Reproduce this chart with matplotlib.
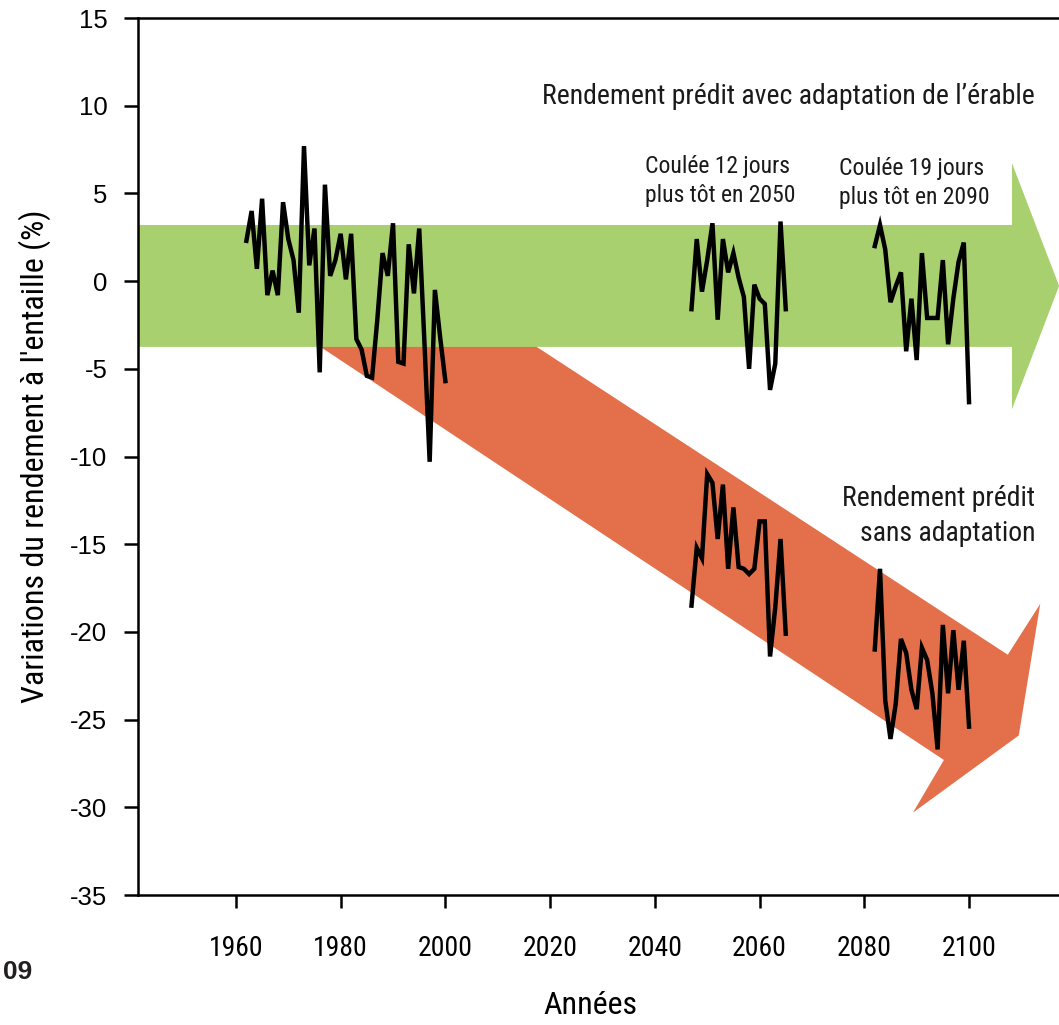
import numpy as np
import matplotlib
matplotlib.use("Agg")
import matplotlib.pyplot as plt
from matplotlib import font_manager
from matplotlib.patches import Polygon

# ---------------- data ----------------
hist_years = np.arange(1962, 2001)
hist_vals = [2.3, 4.0, 0.7, 4.7, -0.8, 0.6, -0.8, 4.5, 2.4, 1.2, -1.8, 7.7, 0.9, 3.0,
             -5.2, 5.5, 0.3, 1.2, 2.7, 0.1, 2.7, -3.3, -3.9, -5.4, -5.5, -2.2, 1.6, 0.3,
             3.3, -4.6, -4.7, 2.1, -0.7, 3.0, -3.5, -10.3, -0.5, -3.2, -5.7]

years_2050 = np.arange(2047, 2066)
adapt_2050 = [-1.6, 2.4, -0.6, 1.2, 3.3, -2.2, 2.4, 0.5, 1.6, 0.2, -0.9, -5.0, -0.2,
              -1.0, -1.3, -6.2, -4.7, 3.4, -1.6]
noadapt_2050 = [-18.5, -15.2, -15.8, -11.0, -11.5, -14.7, -11.6, -16.4, -12.9, -16.3,
                -16.4, -16.7, -16.4, -13.7, -13.7, -21.4, -18.6, -14.7, -20.1]

years_2090 = np.arange(2082, 2101)
adapt_2090 = [2.0, 3.2, 1.8, -1.2, -0.3, 0.5, -4.0, -1.0, -4.5, 1.6, -2.1, -2.1, -2.1,
              1.2, -3.6, -1.0, 1.1, 2.2, -6.9]
noadapt_2090 = [-21.0, -16.4, -23.9, -26.1, -24.1, -20.4, -21.2, -23.3, -24.4, -20.9,
                -21.6, -23.5, -26.7, -19.6, -23.5, -19.9, -23.3, -20.5, -25.4]

x_ticks = [1960, 1980, 2000, 2020, 2040, 2060, 2080, 2100]
y_ticks = [15, 10, 5, 0, -5, -10, -15, -20, -25, -30, -35]

GREEN = "#a9d06f"
RED = "#e3704a"

# ---------------- fonts ----------------
available = {f.name for f in font_manager.fontManager.ttflist}
def pick(cands):
    for c in cands:
        if c in available:
            return c
    return "DejaVu Sans"
NARROW = pick(["Liberation Sans Narrow", "Roboto Condensed", "DejaVu Sans Condensed",
               "Liberation Sans"])
REG = pick(["Liberation Sans", "Arial", "DejaVu Sans"])

# ---------------- figure ----------------
fig = plt.figure(figsize=(10.59, 10.25), dpi=100)
x0, x1 = 1941.3, 2120.0
ax = fig.add_axes([138 / 1059, 0.1268, (236 + (x1 - 1960) * 5.236 - 138) / 1059, 0.8556])
ax.set_xlim(x0, x1)
ax.set_ylim(-35, 15)

# red arrow (no adaptation), drawn beneath green arrow
red_poly = [(1989.0, 1.8), (2107.4, -21.3), (2113.6, -18.4), (2109.5, -25.9),
            (2089.3, -30.3), (2095.2, -27.3), (1976.4, -3.8)]
ax.add_patch(Polygon(red_poly, closed=True, facecolor=RED, edgecolor="none", zorder=1))

# green arrow (with adaptation)
g_top, g_bot, g_head_start, g_head_top, g_head_bot, g_tip_x, g_tip_y = 3.2, -3.75, 2108.2, 6.73, -7.3, 2117.2, -0.27
green_poly = [(x0, g_top), (g_head_start, g_top), (g_head_start, g_head_top), (g_tip_x, g_tip_y),
              (g_head_start, g_head_bot), (g_head_start, g_bot), (x0, g_bot)]
ax.add_patch(Polygon(green_poly, closed=True, facecolor=GREEN, edgecolor="none", zorder=2))

lw = 3.2
for xs, ys in [(hist_years, hist_vals), (years_2050, adapt_2050), (years_2090, adapt_2090),
               (years_2050, noadapt_2050), (years_2090, noadapt_2090)]:
    ax.plot(xs, ys, color="black", lw=lw, zorder=3, solid_joinstyle="miter")

# spines
for s in ["top", "left", "bottom"]:
    ax.spines[s].set_linewidth(1.8)
ax.spines["right"].set_visible(False)

ax.set_yticks(y_ticks)
ax.set_yticklabels([str(v) for v in y_ticks], fontfamily=REG, fontsize=18.5)
ax.set_xticks(x_ticks)
ax.set_xticklabels([str(v) for v in x_ticks], fontfamily=NARROW, fontsize=20)
ax.tick_params(axis="y", direction="out", length=10, width=1.8, pad=12)
ax.tick_params(axis="x", direction="out", length=9, width=1.8, pad=20)

ax.set_ylabel("Variations du rendement à l'entaille (%)", fontfamily=NARROW, fontsize=23,
              labelpad=14)
fig.text(590 / 1059, 1 - 1005 / 1025, "Années", fontfamily=NARROW, fontsize=23,
         ha="center", va="center")
fig.text(0.003, 1 - 972 / 1025, "09", fontfamily=REG, fontsize=19, fontweight="bold",
         ha="left", va="center", color="#231f20")

txt_kw = dict(fontfamily=NARROW, color="#1a1a1a", zorder=4)
ax.text(2112.6, 10.55, "Rendement prédit avec adaptation de l’érable", fontsize=20,
        ha="right", va="center", **txt_kw)
ax.text(2038.1, 5.7, "Coulée 12 jours\nplus tôt en 2050", fontsize=17, ha="left",
        va="center", linespacing=1.35, **txt_kw)
ax.text(2075.2, 5.6, "Coulée 19 jours\nplus tôt en 2090", fontsize=17, ha="left",
        va="center", linespacing=1.35, **txt_kw)
ax.text(2112.6, -13.4, "Rendement prédit\nsans adaptation", fontsize=20, ha="right",
        va="center", multialignment="right", linespacing=1.35, **txt_kw)

fig.savefig("out.png", dpi=100)
